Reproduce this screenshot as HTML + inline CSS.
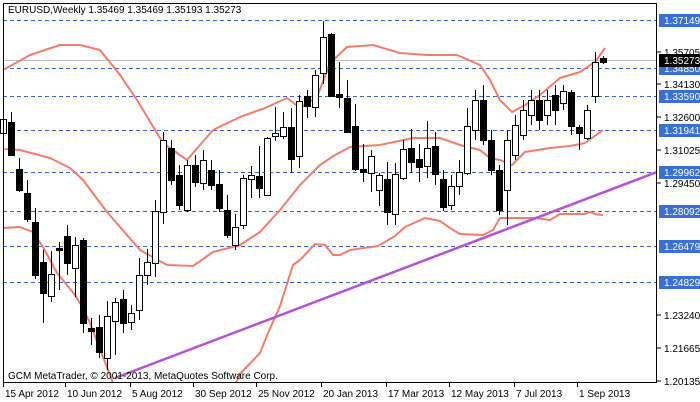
<!DOCTYPE html>
<html><head><meta charset="utf-8"><style>
html,body{margin:0;padding:0;background:#fff;}
svg{display:block;font-family:"Liberation Sans","DejaVu Sans",sans-serif;font-size:10px;}
</style></head><body>
<svg id="s" width="700" height="402" viewBox="0 0 700 402" xmlns="http://www.w3.org/2000/svg">
<rect x="0" y="0" width="700" height="402" fill="#fff"/>
<g id="grid" stroke="#3a5fd9" stroke-width="1" stroke-dasharray="4,3">
<line x1="3" x2="657" y1="20.5" y2="20.5"/>
<line x1="3" x2="657" y1="68.5" y2="68.5"/>
<line x1="3" x2="657" y1="96.5" y2="96.5"/>
<line x1="3" x2="657" y1="130.5" y2="130.5"/>
<line x1="3" x2="657" y1="172.5" y2="172.5"/>
<line x1="3" x2="657" y1="211.5" y2="211.5"/>
<line x1="3" x2="657" y1="246.5" y2="246.5"/>
<line x1="3" x2="657" y1="282.5" y2="282.5"/>
</g>
<line x1="3" x2="657" y1="60.5" y2="60.5" stroke="#c0c0c0"/>
<svg x="0" y="0" width="657" height="383">
<g fill="none" stroke="#f47c6c" stroke-width="2" stroke-linejoin="round">
<polyline points="3,70 30,55 60,45 80,45 100,50 120,75 137,100 163,143 187,160 213,130 240,117 265,108 287,98 300,108 317,97 330,63 347,47 373,45 400,53 427,55 457,55 480,65 490,80 500,100 512,112 525,105 540,95 560,78 580,72 595,62 605,48"/>
<polyline points="3,149 20,150 50,158 70,168 83,180 107,212 140,250 167,265 193,266 213,252 240,245 260,232 280,210 300,185 320,165 335,155 350,147 380,145 413,138 440,138 460,145 480,150 490,158 500,160 512,165 525,152 550,148 570,146 585,143 603,130"/>
<polyline points="3,228 20,227 33,232 43,247 57,273 75,295 83,308 90,323 108,370 113,383"/>
<polyline points="236,383 240,374 260,353 268,333 280,306 293,265 300,260 315,244 325,245 333,255 340,255 350,250 378,246 395,236 405,227 425,218 440,221 450,228 460,234 483,235 493,230 500,218 535,218 550,220 560,214 585,214 590,212 595,214 603,215"/>
</g>
</svg>
<line x1="115" y1="378" x2="657" y2="172" stroke="#b553d4" stroke-width="2.5"/>
<g id="c" stroke="#000" stroke-width="1"></g>
<rect x="3.5" y="3.5" width="653" height="379" fill="none" stroke="#000"/>
<text x="8" y="13" fill="#000">EURUSD,Weekly  1.35469 1.35469 1.35193 1.35273</text>
<text x="8" y="379" fill="#000">GCM MetaTrader, © 2001-2013, MetaQuotes Software Corp.</text>
<g id="ax" fill="#000"></g>
<g id="lb"></g>
</svg>
<script>
var d=[[158,127,122,172],[133,119,115,140],[122,155,112,156],[169,190,158,192],[193,219,180,222],[222,275,208,279],[262,293,250,323],[296,274,251,302],[248,250,242,290],[236,263,225,275],[268,245,237,297],[240,323,238,333],[328,331,318,345],[327,352,315,358],[358,316,301,370],[321,302,298,355],[299,323,290,333],[322,313,305,330],[310,275,258,320],[275,262,249,285],[263,211,200,277],[212,140,132,224],[148,180,140,185],[175,205,165,210],[210,165,160,212],[165,182,155,187],[183,160,150,190],[170,185,160,190],[184,208,170,212],[210,235,195,238],[245,227,214,250],[225,178,175,229],[179,175,166,198],[176,188,146,198],[195,138,137,195],[136,133,107,141],[136,127,112,139],[127,159,108,173],[156,101,95,168],[96,106,90,118],[107,75,70,117],[73,37,21,84],[34,96,33,97],[94,97,62,108],[98,132,80,133],[126,169,104,171],[169,172,144,182],[173,156,150,192],[190,175,173,206],[179,212,162,225],[214,174,163,225],[178,149,140,180],[148,162,129,173],[159,167,144,182],[166,148,121,178],[146,174,132,185],[179,207,170,211],[205,186,175,210],[186,172,160,195],[173,126,108,175],[130,100,90,140],[100,140,85,145],[140,170,130,175],[170,210,165,215],[190,140,130,225],[155,125,115,160],[135,110,100,140],[115,100,90,125],[100,120,90,130],[115,100,90,125],[95,110,85,125],[103,91,85,110],[92,126,90,135],[127,133,125,150],[138,110,105,140],[96,62,52,103],[58,62,56,64]];
var g=document.getElementById('c'),h='',n=d.length;
for(var i=0;i<n;i++){var x=603-8*(n-1-i),o=d[i][0],c=d[i][1],hi=d[i][2],lo=d[i][3];
var t=Math.min(o,c),b=Math.max(o,c);if(b-t<2)b=t+2;
h+='<line x1="'+(x+.5)+'" x2="'+(x+.5)+'" y1="'+hi+'" y2="'+lo+'"/>';
h+='<rect x="'+(x-2.5)+'" y="'+(t+.5)+'" width="6" height="'+(b-t)+'" fill="'+(c<o?'#fff':'#000')+'"/>';}
g.innerHTML=h;
var a='',L=[[52,'1.35705'],[84,'1.34130'],[117,'1.32600'],[150,'1.31025'],[183,'1.29450'],[315,'1.23240'],[348,'1.21665'],[381,'1.20135']];
L.forEach(function(p){a+='<line x1="657" x2="661" y1="'+p[0]+'" y2="'+p[0]+'" stroke="#000"/><text x="664" y="'+(p[0]+4)+'">'+p[1]+'</text>';});
var D=[[3,'15 Apr 2012'],[65,'10 Jun 2012'],[130,'5 Aug 2012'],[193,'30 Sep 2012'],[256,'25 Nov 2012'],[321,'20 Jan 2013'],[386,'17 Mar 2013'],[449,'12 May 2013'],[514,'7 Jul 2013'],[577,'1 Sep 2013']];
D.forEach(function(p){a+='<line x1="'+(p[0]+.5)+'" x2="'+(p[0]+.5)+'" y1="383" y2="387" stroke="#000"/><text x="'+(p[0]+2)+'" y="397">'+p[1]+'</text>';});
document.getElementById('ax').innerHTML=a;
var B=[[20,'1.37149','#3a6fd8','#fff'],[68,'1.34850','#3a6fd8','#fff'],[96,'1.33590','#3a6fd8','#fff'],[130,'1.31941','#3a6fd8','#fff'],[172,'1.29962','#3a6fd8','#fff'],[211,'1.28092','#3a6fd8','#fff'],[246,'1.26479','#3a6fd8','#fff'],[282,'1.24829','#3a6fd8','#fff'],[60,'1.35273','#000','#fff']],l='';
B.forEach(function(p){l+='<rect x="659" y="'+(p[0]-6)+'" width="41" height="13" fill="'+p[2]+'"/><text x="664" y="'+(p[0]+4)+'" fill="'+p[3]+'">'+p[1]+'</text>';});
document.getElementById('lb').innerHTML=l;
</script>
</body></html>
